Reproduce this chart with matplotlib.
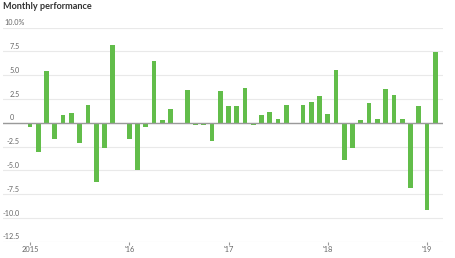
import matplotlib.pyplot as plt
import matplotlib.transforms as mtransforms
import numpy as np

# monthly returns (%), Jan 2015 - Feb 2019
perf_2015 = [-0.45, -3.1, 5.4, -1.7, 0.8, 1.0, -2.1, 1.9, -6.2, -2.6, 8.2, 0.0]
perf_2016 = [-1.75, -5.0, -0.4, 6.5, 0.25, 1.5, 0.0, 3.5, -0.25, -0.25, -1.9, 3.35]
perf_2017 = [1.75, 1.75, 3.7, -0.2, 0.8, 1.1, 0.4, 1.9, 0.0, 1.9, 2.2, 2.8]
perf_2018 = [0.9, 5.55, -3.9, -2.7, 0.25, 2.1, 0.4, 3.55, 2.9, 0.4, -6.9, 1.75]
perf_2019 = [-9.15, 7.45]
values = perf_2015 + perf_2016 + perf_2017 + perf_2018 + perf_2019

year_ticks = [0, 12, 24, 36, 48]
year_labels = ["2015", "'16", "'17", "'18", "'19"]
y_ticks = [10.0, 7.5, 5.0, 2.5, 0.0, -2.5, -5.0, -7.5, -10.0, -12.5]
y_labels = ["10.0%", "7.5", "5.0", "2.5", "0", "-2.5", "-5.0", "-7.5", "-10.0", "-12.5"]

plt.rcParams['font.family'] = ['Lato', 'DejaVu Sans']

W, H = 455, 258
fig = plt.figure(figsize=(W / 100, H / 100), dpi=100)
left_px, right_px, top_px, bottom_px = 3, 443, 27.7, 241.7
ax = fig.add_axes([left_px / W, 1 - bottom_px / H,
                   (right_px - left_px) / W, (bottom_px - top_px) / H])

x = np.arange(len(values))
ax.bar(x, values, width=0.57, color='#62bd4a', zorder=2)
ax.axhline(0, color='#9a9a9a', lw=1.0, zorder=3)

px_per_month = (427 - 30) / 48
ax.set_xlim((left_px - 30) / px_per_month, (right_px - 30) / px_per_month)
ax.set_ylim(-12.5, 10)

ax.set_yticks(y_ticks)
ax.yaxis.grid(True, color='#e9e9e9', lw=0.8, zorder=0)
ax.tick_params(axis='y', length=0, labelleft=False)
ax.set_xticks(year_ticks)
ax.set_xticklabels(year_labels)
ax.tick_params(axis='x', length=2, width=0.8, color='#999999',
               labelsize=5.4, labelcolor='#666666', pad=1.2)
for s in ax.spines.values():
    s.set_visible(False)

# y labels sit just above their gridlines
trans = mtransforms.offset_copy(ax.get_yaxis_transform(), fig=fig, y=1.0, units='points')
for v, lab in zip(y_ticks, y_labels):
    if lab == "10.0%":
        xpx, ha = 4.5, 'left'
    elif lab == "0":
        xpx, ha = 9.5, 'left'
    else:
        xpx, ha = 19.5, 'right'
    ax.text((xpx - left_px) / (right_px - left_px), v, lab, transform=trans,
            ha=ha, va='bottom', fontsize=5.2, color='#666666')

fig.text(3 / W, 1 - 6.5 / H, "Monthly performance", fontsize=6.6,
         fontweight='bold', color='#333333', va='center', ha='left')

fig.savefig('out.png', dpi=100)
